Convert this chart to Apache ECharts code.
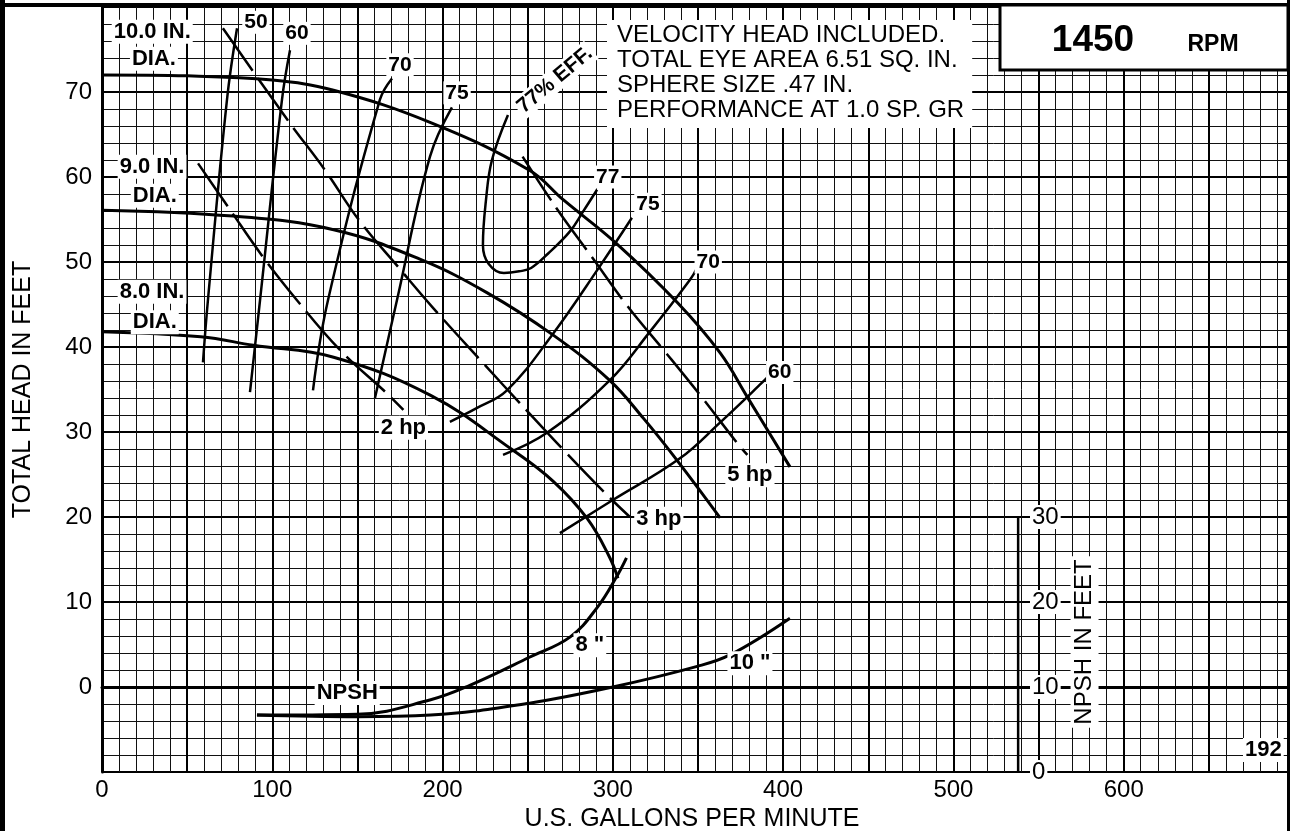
<!DOCTYPE html>
<html>
<head>
<meta charset="utf-8">
<script src="https://cdn.jsdelivr.net/npm/echarts@6/dist/echarts.min.js"></script>
<style>
html, body { margin: 0; padding: 0; background: #fff; }
#chart { width: 1290px; height: 831px; }
</style>
</head>
<body>
<div id="chart"></div>
<script>
// head curves per impeller diameter [gpm, ft]
var head10 = [[0,72],[50,71.9],[100,71.4],[136,70.2],[193,66.4],[251,60.8],[271,57.3],[302,52.2],[338,45.2],[363,39.3],[379,34.1],[404,25.9]];
var head9 = [[0,56.1],[77,55.4],[136,53.8],[187,50.3],[226,46.4],[265,41.4],[298,36.1],[318,31.6],[337.6,26.7],[363,19.9]];
var head8 = [[0,41.8],[58,41.2],[89,40.2],[136,38.8],[193,34.3],[241,27.9],[265,24.2],[285,19.8],[298,15.3],[303,12.8]];

// efficiency lines, left branch
var eff50 = [[79.3,77.5],[73.4,69.1],[62.2,45.5],[59.3,38.2]];
var eff60 = [[110.4,74.9],[105.7,69.1],[92.8,45.5],[86.9,34.7]];
var eff70 = [[170.3,71.6],[163.2,69.1],[132.7,45.5],[123.9,34.9]];
var eff75 = [[205.5,68.2],[192.6,62.4],[173.2,45.5],[160.3,34.0]];
var eff77 = [[238.4,67.3],[229,62],[225.5,57.3],[223.7,52],[227,49.8],[236,48.7],[245,48.9],[252,49.3],[262,51],[274.8,53.6],[282.4,55.9],[290.7,58.5]];
// efficiency lines, right branch
var eff75r = [[311.2,55.2],[292,49.4],[265,41.6],[237.8,34.9],[220,32.8],[204.3,31.2]];
var eff70r = [[349.4,49.3],[345.3,47.9],[321,41.6],[298.3,36.1],[261.3,29.9],[235.5,27.3]];
var eff60r = [[392,36.7],[387.6,35.8],[362.9,31.1],[339.4,26.9],[300,22],[268.9,18.1]];

// horsepower lines
var hp2 = [[56.4,61.6],[74,56.5],[94.5,50.6],[114.5,45.5],[140,39.6],[167,34.6],[177,32.6]];
var hp3 = [[71,77.5],[109,66.7],[131,60.8],[151,54.9],[174,49.4],[194,44.7],[222,38.5],[250,32.4],[270,28.1],[295,22.9],[310,20]];
var hp5 = [[247,62.4],[267,56.3],[288,50.5],[309,44.7],[330,39.6],[351,34.4],[373,28.7],[379,27.3]];

// NPSH required [gpm, ft of NPSH]
var npsh8 = [[91,6.7],[150,6.8],[193,8.5],[216,10.2],[251,13.5],[275,15.9],[291,19.4],[302,22.9],[308,25.2]];
var npsh10 = [[91,6.7],[150,6.5],[193,6.7],[251,8.1],[300,10],[349,12.4],[369,13.8],[404,18.1]];
var npshAxisLine = [[538,0],[538,30]];

var xTicks = [0,100,200,300,400,500,600];
var yTicks = [0,10,20,30,40,50,60,70];
var npshTicks = [0,10,20,30];

// text annotations [text, gpm, head]
var labels = [
    ['10.0 IN.', 29.5, 77.1], ['DIA.', 30.5, 73.9],
    ['9.0 IN.', 29.4, 61.2], ['DIA.', 31, 57.8],
    ['8.0 IN.', 29.4, 46.5], ['DIA.', 31, 42.9],
    ['50', 90.4, 78.2], ['60', 114.5, 76.9], ['70', 175, 73.2], ['75', 208.5, 69.9],
    ['77', 297, 60], ['75', 320.6, 56.8], ['70', 356, 50], ['60', 398, 37],
    ['2 hp', 177, 30.5], ['3 hp', 327, 19.8], ['5 hp', 380.5, 24.9],
    ['NPSH', 144, -0.7], ['8 "', 286.5, 4.9], ['10 "', 380.5, 2.8],
    ['192', 682, -7.4]
];
var effLabel = ['77% EFF.', 266, 71.4];
var npshTitle = ['NPSH IN FEET', 577, 5.3];

var FONT = '"Liberation Sans", Arial, Helvetica, sans-serif';

function curve(data, width, dash, yIdx) {
    return {
        type: 'line', data: data, yAxisIndex: yIdx || 0,
        symbol: 'none', smooth: 0.4, silent: true, z: 3,
        lineStyle: { color: '#000', width: width, type: dash || 'solid', cap: 'butt' }
    };
}

var labelData = labels.map(function (l) {
    var size = /^\d+$/.test(l[0]) && l[0] !== '192' ? 21 : 22;
    return {
        value: [l[1], l[2]],
        label: { formatter: l[0], fontSize: size }
    };
});
labelData.push({
    value: [effLabel[1], effLabel[2]],
    label: { formatter: effLabel[0], fontSize: 21, rotate: 40 }
});
labelData.push({
    value: [npshTitle[1], npshTitle[2]],
    label: { formatter: npshTitle[0], fontSize: 24, fontWeight: 'normal', rotate: 90, padding: [2, 3] }
});

var chart = echarts.init(document.getElementById('chart'));
chart.setOption({
    animation: false,
    backgroundColor: '#fff',
    textStyle: { fontFamily: FONT },
    grid: { left: 102, top: 7, width: 1192, height: 765, show: false, containLabel: false, outerBoundsMode: 'none' },
    xAxis: {
        type: 'value', min: 0, max: 700, interval: 50,
        name: 'U.S. GALLONS PER MINUTE', nameLocation: 'middle', nameGap: 31,
        nameTextStyle: { fontSize: 25, color: '#000', fontFamily: FONT, padding: [0, 12, 0, 0] },
        axisLine: { show: true, lineStyle: { color: '#000', width: 3 } },
        axisTick: { show: false },
        axisLabel: {
            fontSize: 24, color: '#000', margin: 6, fontFamily: FONT,
            formatter: function (v) { return xTicks.indexOf(v) >= 0 ? String(v) : ''; }
        },
        splitLine: { show: true, lineStyle: { color: '#000', width: 2 } },
        minorTick: { show: false, splitNumber: 5 },
        minorSplitLine: { show: true, lineStyle: { color: '#111', width: 1 } }
    },
    yAxis: [{
        type: 'value', min: -10, max: 80, interval: 10,
        name: 'TOTAL HEAD IN FEET', nameLocation: 'middle', nameGap: 66,
        nameTextStyle: { fontSize: 25, color: '#000', fontFamily: FONT },
        axisLine: { show: true, lineStyle: { color: '#000', width: 3 } },
        axisTick: { show: false },
        axisLabel: {
            fontSize: 24, color: '#000', margin: 10, fontFamily: FONT,
            formatter: function (v) { return yTicks.indexOf(v) >= 0 ? String(v) : ''; }
        },
        splitLine: { show: true, lineStyle: { color: '#000', width: 2 } },
        minorTick: { show: false, splitNumber: 5 },
        minorSplitLine: { show: true, lineStyle: { color: '#111', width: 1 } }
    }, {
        type: 'value', min: 0, max: 90, interval: 10,
        position: 'right', offset: -276,
        axisLine: { show: false },
        axisTick: { show: false },
        splitLine: { show: false },
        axisLabel: {
            customValues: npshTicks,
            fontSize: 24, color: '#000', margin: 12, fontFamily: FONT,
            backgroundColor: '#fff', padding: [0, 2]
        }
    }],
    graphic: [
        { type: 'line', shape: { x1: 0, y1: 5, x2: 1290, y2: 5 }, style: { stroke: '#000', lineWidth: 4 }, z: 100 },
        { type: 'line', shape: { x1: 2.5, y1: 0, x2: 2.5, y2: 831 }, style: { stroke: '#000', lineWidth: 5 }, z: 100 },
        { type: 'line', shape: { x1: 1288.5, y1: 0, x2: 1288.5, y2: 831 }, style: { stroke: '#000', lineWidth: 3 }, z: 100 },
        { type: 'rect', shape: { x: 1000, y: 5, width: 288, height: 65 }, style: { fill: '#fff', stroke: '#000', lineWidth: 3 }, z: 100 },
        { type: 'text', x: 1093, y: 41, style: { text: '1450', font: 'bold 37px ' + FONT, fill: '#000', align: 'center', verticalAlign: 'middle' }, z: 101 },
        { type: 'text', x: 1213, y: 45, style: { text: 'RPM', font: 'bold 23px ' + FONT, fill: '#000', align: 'center', verticalAlign: 'middle' }, z: 101 },
        {
            type: 'text', x: 607, y: 20, z: 100,
            style: {
                text: 'VELOCITY HEAD INCLUDED.\nTOTAL EYE AREA 6.51 SQ. IN.\nSPHERE SIZE .47 IN.\nPERFORMANCE AT 1.0 SP. GR',
                font: '24px ' + FONT, fill: '#000', lineHeight: 25,
                backgroundColor: '#fff', padding: [3, 8, 5, 10]
            }
        }
    ],
    series: [
        curve(head10, 3), curve(head9, 3), curve(head8, 3),
        curve(eff50, 2.5), curve(eff60, 2.5), curve(eff70, 2.5), curve(eff75, 2.5), curve(eff77, 2.5),
        curve(eff75r, 2.5), curve(eff70r, 2.5), curve(eff60r, 2.5),
        curve(hp2, 2.5, [52, 9]), curve(hp3, 2.5, [52, 9]), curve(hp5, 2.5, [52, 9]),
        curve(npsh8, 3, null, 1), curve(npsh10, 3, null, 1),
        curve(npshAxisLine, 2.5, null, 1),
        {
            type: 'scatter', data: labelData, symbol: 'circle', symbolSize: 0, z: 10, silent: true,
            itemStyle: { color: '#000', opacity: 1 },
            label: {
                show: true, position: 'inside', color: '#000', fontWeight: 'bold', opacity: 1,
                textBorderWidth: 0, textShadowBlur: 0,
                fontFamily: FONT, backgroundColor: '#fff', padding: [1, 2]
            }
        }
    ]
});
</script>
</body>
</html>
